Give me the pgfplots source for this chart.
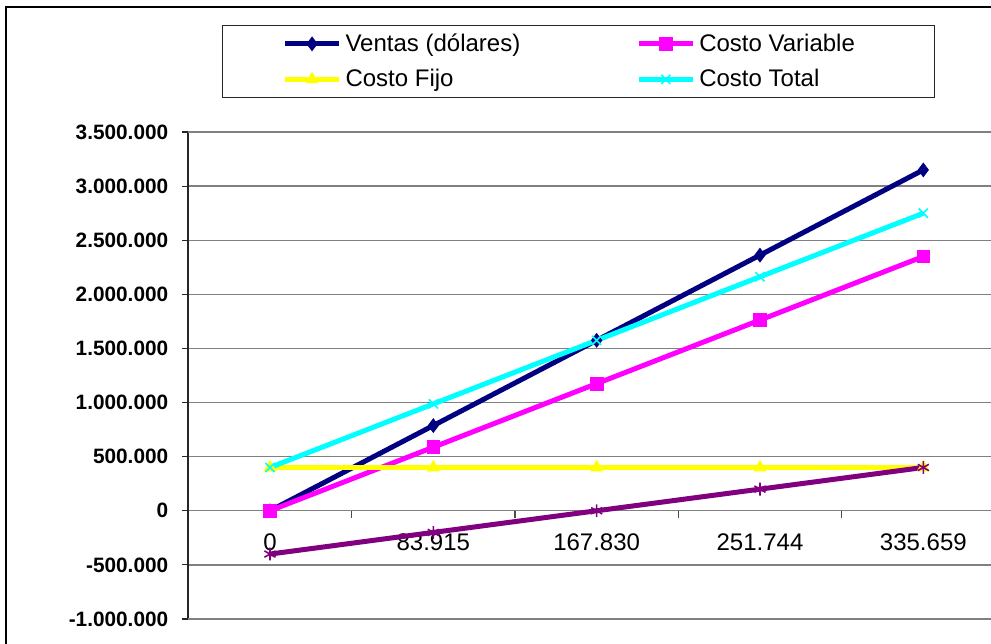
\documentclass[border=0pt]{standalone}
\usepackage{fontspec}
\setmainfont{Liberation Sans}
\usepackage{pgfplots}
\pgfplotsset{compat=1.18}

\definecolor{cVentas}{HTML}{000080}
\definecolor{cVariable}{HTML}{FF00FF}
\definecolor{cFijo}{HTML}{FFFF00}
\definecolor{cTotal}{HTML}{00FFFF}
\definecolor{cUtilidad}{HTML}{800080}
\definecolor{cGrid}{HTML}{808080}

\begin{document}
\begin{tikzpicture}
\useasboundingbox (0pt,0pt) rectangle (495.5pt,321.5pt);
\clip (0pt,0pt) rectangle (495.5pt,321.5pt);
% chart frame
\draw[black, line width=0.8pt] (3pt,318pt) rectangle (600pt,-100pt);
\begin{axis}[
  at={(94.15pt,12pt)}, anchor=south west,
  scale only axis, width=408.35pt, height=243.5pt,
  xmin=-0.5, xmax=4.5, ymin=-1000000, ymax=3500000,
  axis x line*=middle, axis y line*=left,
  axis line style={-},
  x axis line style={draw=cGrid, line width=0.7pt},
  y axis line style={draw=black!85, line width=0.8pt},
  xtick={0,1,2,3,4},
  xticklabels={0,83.915,167.830,251.744,335.659},
  minor xtick={-0.5,0.5,1.5,2.5,3.5,4.5},
  major x tick style={draw=none},
  minor x tick style={draw=black!70, line width=0.6pt},
  minor tick length=3.5pt,
  xtick align=outside,
  xticklabel style={font=\fontsize{12}{14}\selectfont, anchor=center, yshift=-12.5pt},
  ytick={-1000000,-500000,0,500000,1000000,1500000,2000000,2500000,3000000,3500000},
  yticklabels={-1.000.000,-500.000,0,500.000,1.000.000,1.500.000,2.000.000,2.500.000,3.000.000,3.500.000},
  scaled y ticks=false,
  ytick align=outside,
  major tick length=3pt,
  major y tick style={draw=black!85, line width=0.6pt},
  yticklabel style={font=\bfseries\fontsize{10.4}{12}\selectfont, xshift=-3.5pt},
  ymajorgrids,
  major grid style={draw=cGrid, line width=0.7pt},
  clip=false,
  legend columns=2,
  legend cell align=left,
  legend image code/.code={%
    \draw[mark repeat=2,mark phase=2,#1] plot coordinates {(0pt,0pt) (13.5pt,0pt) (27pt,0pt)};},
  legend style={
    at={(0.0413,1.2197)}, anchor=north west,
    draw=black!85, line width=0.5pt,
    font=\fontsize{12}{14}\selectfont,
    inner xsep=30pt, inner ysep=2pt,
    row sep=3.5pt,
    /tikz/every even column/.append style={column sep=56pt},
  },
  every axis plot/.append style={line width=2.5pt},
]
% plot area border
\draw[cGrid, line width=1pt] (rel axis cs:0,1) -- (rel axis cs:1,1);
\draw[cGrid, line width=1pt] (rel axis cs:0,0) -- (rel axis cs:1,0);

\addplot[cVentas, mark=diamond*, mark size=3.4pt, mark options={solid, line width=0.4pt}]
  coordinates {(0,0) (1,787405) (2,1574810) (3,2362208) (4,3149613)};
\addlegendentry{Ventas (dólares)}

\addplot[cVariable, mark=square*, mark size=3.2pt, mark options={solid, line width=0.4pt}]
  coordinates {(0,0) (1,587405) (2,1174810) (3,1762208) (4,2349613)};
\addlegendentry{Costo Variable\hspace*{8pt}}

\addplot[cFijo, mark=triangle*, mark size=3.4pt, mark options={solid, line width=0.4pt}]
  coordinates {(0,400000) (1,400000) (2,400000) (3,400000) (4,400000)};
\addlegendentry{Costo Fijo}

\addplot[cTotal, mark=x, mark size=3.2pt, mark options={solid, line width=0.8pt}]
  coordinates {(0,400000) (1,987405) (2,1574810) (3,2162208) (4,2749613)};
\addlegendentry{Costo Total}

\addplot[cUtilidad, mark=asterisk, mark size=3.2pt, mark options={solid, line width=0.8pt}, forget plot]
  coordinates {(0,-400000) (1,-200000) (2,0) (3,200000) (4,400000)};
\end{axis}
\end{tikzpicture}
\end{document}
